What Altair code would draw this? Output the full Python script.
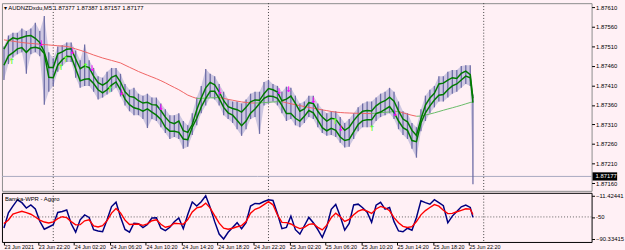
import altair as alt
import pandas as pd

BG = "#FFF0F5"
FONT = "Liberation Sans"

# time axis: hours counted from 23 Jun 2021 00:00, one sample every 30 minutes
hours = [18.5 + 0.5 * i for i in range(105)] + [70.8]

upper = [
    1.87503, 1.87524, 1.87532, 1.87529, 1.87533, 1.87537, 1.87538, 1.87531, 1.87520, 1.87496,
    1.87456, 1.87456, 1.87491, 1.87496, 1.87503, 1.87504, 1.87478, 1.87453, 1.87460, 1.87456,
    1.87434, 1.87417, 1.87411, 1.87418, 1.87431, 1.87436, 1.87419, 1.87394, 1.87382, 1.87380,
    1.87371, 1.87365, 1.87367, 1.87361, 1.87360, 1.87346, 1.87329, 1.87316, 1.87312, 1.87319,
    1.87294, 1.87290, 1.87310, 1.87348, 1.87378, 1.87404, 1.87418, 1.87412, 1.87394, 1.87371,
    1.87356, 1.87351, 1.87348, 1.87342, 1.87354, 1.87368, 1.87373, 1.87372, 1.87389, 1.87402,
    1.87399, 1.87393, 1.87371, 1.87375, 1.87383, 1.87364, 1.87344, 1.87350, 1.87366, 1.87364,
    1.87344, 1.87329, 1.87319, 1.87326, 1.87324, 1.87308, 1.87295, 1.87303, 1.87320, 1.87334,
    1.87344, 1.87346, 1.87345, 1.87358, 1.87366, 1.87371, 1.87380, 1.87370, 1.87345, 1.87324,
    1.87317, 1.87295, 1.87282, 1.87324, 1.87360, 1.87378, 1.87390, 1.87414, 1.87416, 1.87424,
    1.87430, 1.87428, 1.87441, 1.87447, 1.87438, 1.87377,
]
lower = [
    1.87462, 1.87486, 1.87494, 1.87504, 1.87507, 1.87495, 1.87506, 1.87508, 1.87505, 1.87492,
    1.87431, 1.87430, 1.87462, 1.87476, 1.87485, 1.87484, 1.87453, 1.87422, 1.87426, 1.87427,
    1.87415, 1.87399, 1.87391, 1.87399, 1.87411, 1.87419, 1.87399, 1.87375, 1.87361, 1.87353,
    1.87350, 1.87344, 1.87350, 1.87342, 1.87334, 1.87323, 1.87303, 1.87293, 1.87293, 1.87290,
    1.87273, 1.87271, 1.87303, 1.87326, 1.87355, 1.87377, 1.87395, 1.87395, 1.87377, 1.87354,
    1.87340, 1.87334, 1.87321, 1.87307, 1.87319, 1.87339, 1.87350, 1.87364, 1.87377, 1.87383,
    1.87382, 1.87377, 1.87359, 1.87338, 1.87338, 1.87326, 1.87319, 1.87331, 1.87346, 1.87340,
    1.87321, 1.87302, 1.87294, 1.87300, 1.87295, 1.87278, 1.87269, 1.87272, 1.87291, 1.87310,
    1.87320, 1.87322, 1.87322, 1.87338, 1.87342, 1.87349, 1.87356, 1.87341, 1.87319, 1.87302,
    1.87295, 1.87269, 1.87266, 1.87314, 1.87340, 1.87358, 1.87373, 1.87385, 1.87387, 1.87399,
    1.87409, 1.87414, 1.87424, 1.87434, 1.87430, 1.87366,
]
high = [
    1.87510, 1.87538, 1.87545, 1.87545, 1.87556, 1.87550, 1.87556, 1.87571, 1.87550, 1.87588,
    1.87495, 1.87480, 1.87510, 1.87513, 1.87520, 1.87520, 1.87500, 1.87475, 1.87515, 1.87475,
    1.87455, 1.87434, 1.87430, 1.87445, 1.87455, 1.87455, 1.87440, 1.87414, 1.87399, 1.87404,
    1.87389, 1.87384, 1.87389, 1.87379, 1.87379, 1.87364, 1.87349, 1.87334, 1.87334, 1.87339,
    1.87319, 1.87308, 1.87339, 1.87379, 1.87409, 1.87452, 1.87440, 1.87434, 1.87414, 1.87394,
    1.87374, 1.87369, 1.87369, 1.87364, 1.87374, 1.87389, 1.87394, 1.87394, 1.87419, 1.87424,
    1.87414, 1.87409, 1.87394, 1.87407, 1.87404, 1.87384, 1.87364, 1.87369, 1.87384, 1.87384,
    1.87364, 1.87349, 1.87339, 1.87344, 1.87344, 1.87329, 1.87314, 1.87324, 1.87339, 1.87354,
    1.87364, 1.87369, 1.87369, 1.87379, 1.87389, 1.87394, 1.87404, 1.87394, 1.87369, 1.87344,
    1.87339, 1.87314, 1.87303, 1.87349, 1.87384, 1.87399, 1.87409, 1.87434, 1.87434, 1.87445,
    1.87450, 1.87450, 1.87460, 1.87462, 1.87462, 1.87387,
]
low = [
    1.87424, 1.87465, 1.87482, 1.87490, 1.87495, 1.87440, 1.87490, 1.87495, 1.87485, 1.87361,
    1.87394, 1.87409, 1.87445, 1.87460, 1.87470, 1.87470, 1.87430, 1.87404, 1.87409, 1.87409,
    1.87394, 1.87374, 1.87379, 1.87387, 1.87394, 1.87404, 1.87382, 1.87359, 1.87344, 1.87334,
    1.87334, 1.87324, 1.87301, 1.87324, 1.87319, 1.87303, 1.87288, 1.87273, 1.87278, 1.87273,
    1.87248, 1.87253, 1.87283, 1.87308, 1.87339, 1.87359, 1.87379, 1.87374, 1.87359, 1.87334,
    1.87324, 1.87314, 1.87298, 1.87281, 1.87298, 1.87324, 1.87329, 1.87286, 1.87359, 1.87364,
    1.87369, 1.87359, 1.87339, 1.87319, 1.87324, 1.87308, 1.87303, 1.87314, 1.87329, 1.87324,
    1.87303, 1.87288, 1.87281, 1.87283, 1.87278, 1.87263, 1.87251, 1.87253, 1.87273, 1.87293,
    1.87303, 1.87303, 1.87303, 1.87319, 1.87329, 1.87334, 1.87339, 1.87324, 1.87298, 1.87283,
    1.87273, 1.87248, 1.87225, 1.87293, 1.87319, 1.87339, 1.87354, 1.87369, 1.87369, 1.87379,
    1.87389, 1.87394, 1.87404, 1.87414, 1.87409, 1.87157,
]
ma = [
    1.875270, 1.875252, 1.875235, 1.875217, 1.875202, 1.875189, 1.875179, 1.875169, 1.875159, 1.875149,
    1.875139, 1.875129, 1.875119, 1.875111, 1.875101, 1.875076, 1.875038, 1.875003, 1.874965, 1.874925,
    1.874882, 1.874844, 1.874806, 1.874774, 1.874743, 1.874711, 1.874678, 1.874622, 1.874567, 1.874514,
    1.874459, 1.874411, 1.874365, 1.874320, 1.874275, 1.874224, 1.874169, 1.874108, 1.874050, 1.873992,
    1.873924, 1.873854, 1.873808, 1.873768, 1.873771, 1.873778, 1.873783, 1.873788, 1.873791, 1.873771,
    1.873745, 1.873723, 1.873700, 1.873680, 1.873665, 1.873655, 1.873650, 1.873655, 1.873662, 1.873670,
    1.873677, 1.873685, 1.873687, 1.873657, 1.873632, 1.873609, 1.873584, 1.873561, 1.873539, 1.873519,
    1.873496, 1.873476, 1.873456, 1.873435, 1.873418, 1.873408, 1.873400, 1.873395, 1.873390, 1.873388,
    1.873385, 1.873383, 1.873380, 1.873393, 1.873403, 1.873413, 1.873423, 1.873430, 1.873433, 1.873400,
    1.873367, 1.873337, 1.873312, 1.873317, 1.873342, 1.873370, 1.873400, 1.873433, 1.873466, 1.873498,
    1.873529, 1.873561, 1.873594, 1.873630, 1.873665, 1.873677,
]
wpr = [
    -70.2, -42.4, -30.2, -18.9, -24.0, -33.8, -28.1, -35.6, -58.0, -72.4,
    -68.4, -64.3, -41.9, -40.1, -37.4, -62.5, -77.8, -55.3, -46.4, -50.9,
    -73.3, -75.8, -76.9, -55.3, -31.1, -23.1, -50.0, -72.9, -77.8, -61.6,
    -62.5, -69.3, -63.8, -51.8, -51.4, -70.6, -75.1, -68.8, -58.9, -51.8,
    -71.5, -45.5, -22.7, -30.2, -22.2, -11.4, -32.9, -58.6, -81.3, -90.3,
    -78.1, -69.1, -60.4, -71.5, -60.7, -30.2, -25.4, -25.8, -21.8, -18.6,
    -20.0, -44.2, -71.5, -69.1, -48.5, -73.3, -81.3, -66.1, -50.9, -60.7,
    -73.3, -87.1, -67.9, -36.2, -27.2, -48.7, -74.2, -62.0, -28.1, -26.7,
    -33.3, -41.5, -59.8, -28.6, -23.3, -35.8, -32.9, -58.6, -75.6, -77.0,
    -70.6, -74.2, -50.9, -20.7, -24.0, -26.8, -18.6, -24.0, -29.5, -60.7,
    -48.5, -40.1, -31.5, -28.5, -32.6, -50.9,
]
sig = [
    -62.2, -55.5, -44.8, -42.1, -39.7, -42.3, -45.1, -50.2, -55.7, -59.3,
    -61.1, -58.9, -53.0, -49.6, -51.4, -58.6, -64.5, -64.1, -57.1, -55.3,
    -66.4, -68.4, -66.1, -56.9, -43.0, -34.5, -42.8, -55.9, -63.9, -63.4,
    -63.0, -65.4, -62.7, -56.9, -55.1, -63.4, -68.8, -67.0, -61.6, -62.2,
    -63.4, -54.8, -41.0, -33.5, -31.5, -24.8, -33.8, -47.6, -61.4, -70.4,
    -72.4, -70.6, -67.9, -65.9, -58.6, -43.3, -36.0, -32.9, -27.5, -22.2,
    -27.9, -46.4, -60.0, -60.3, -62.9, -67.5, -71.3, -69.1, -63.6, -62.5,
    -69.0, -73.8, -65.0, -51.2, -43.1, -49.9, -58.2, -54.4, -46.2, -39.4,
    -36.5, -39.4, -43.7, -35.6, -30.8, -33.3, -38.8, -51.2, -60.7, -67.2,
    -69.3, -67.7, -58.4, -46.2, -38.5, -32.9, -27.5, -30.4, -37.9, -43.9,
    -43.5, -40.6, -37.9, -35.1, -35.8, -45.5,
]

sell_h = [22.67, 26.13, 28.33, 31.62, 36.0, 42.58, 49.18, 50.25, 52.99, 56.05, 62.12]
sell_p = [1.87516, 1.87495, 1.87453, 1.87390, 1.87352, 1.87394, 1.87394, 1.87399, 1.87369, 1.87299, 1.87336]
buy_h = [19.38, 24.86, 25.40, 27.60, 30.33, 55.45, 59.56]
buy_p = [1.87470, 1.87455, 1.87474, 1.87457, 1.87399, 1.87316, 1.87298]

day_sep = [24, 48, 72]
x_tick_vals = [18.5, 22.3333, 26.3333, 30.3333, 34.3333, 38.3333, 42.3333,
               46.3333, 50.3333, 54.3333, 58.3333, 62.3333, 66.3333, 70.3333]
x_tick_labels = ["23 Jun 2021", "23 Jun 22:20", "24 Jun 02:20", "24 Jun 06:20",
                 "24 Jun 10:20", "24 Jun 14:20", "24 Jun 18:20", "24 Jun 22:20",
                 "25 Jun 02:20", "25 Jun 06:20", "25 Jun 10:20", "25 Jun 14:20",
                 "25 Jun 18:20", "25 Jun 22:20"]
price_ticks = [1.8716, 1.8721, 1.8726, 1.8731, 1.8736, 1.8741, 1.8746, 1.8751, 1.8756, 1.8761]
wpr_ticks = [-11.42441, -50, -90.33415]
last_price = 1.87177
header = "\u25be AUDNZDxdu,M5  1.87377 1.87387 1.87157 1.87177"
sub_title = "Bamka-WPR - Aggro"

X_DOM = [18.28, 84.03]
P_DOM = [1.87140, 1.87621]
W_DOM = [-95.7, -6.04]

df = pd.DataFrame(dict(h=hours, upper=upper, lower=lower, high=high, low=low,
                       ma=ma, wpr=wpr, sig=sig))
sells = pd.DataFrame(dict(h=sell_h, p=sell_p))
buys = pd.DataFrame(dict(h=buy_h, p=buy_p))
seps = pd.DataFrame(dict(h=day_sep))
last_df = pd.DataFrame(dict(p=[last_price], t=["%.5f" % last_price]))

label_arr = "[" + ",".join("'%s'" % s for s in x_tick_labels) + "]"

x_hidden = alt.X("h:Q", scale=alt.Scale(domain=X_DOM, nice=False, zero=False), axis=None)
x_axis = alt.Axis(orient="bottom", values=x_tick_vals, title=None, grid=False, domain=False,
                  labelExpr=label_arr + "[round((datum.value - 18.5) / 4)]",
                  labelAlign="left", labelBaseline="top", labelPadding=0, tickSize=3,
                  tickColor="#000", labelColor="#000", labelFont=FONT, labelFontSize=5.5,
                  labelOverlap=False, labelFlush=False)
x_sub = alt.X("h:Q", scale=alt.Scale(domain=X_DOM, nice=False, zero=False), axis=x_axis)

ax_price = alt.Axis(orient="right", values=price_ticks, format=".5f", title=None, grid=False,
                    domain=False, tickSize=3, tickColor="#000", labelColor="#000", labelFont=FONT,
                    labelFontSize=6, labelPadding=1, labelOverlap=False, labelFlush=False)
ax_wpr = alt.Axis(orient="right", values=wpr_ticks, title=None, grid=False, domain=False,
                  labelExpr="datum.value == -50 ? '-50' : format(datum.value, '.5f')",
                  tickSize=3, tickColor="#000", labelColor="#000", labelFont=FONT,
                  labelFontSize=6, labelPadding=1, labelOverlap=False, labelFlush=False)


def yp(field):
    return alt.Y(field, scale=alt.Scale(domain=P_DOM, nice=False, zero=False), axis=ax_price)


def yw(field):
    return alt.Y(field, scale=alt.Scale(domain=W_DOM, nice=False, zero=False), axis=ax_wpr)


base = alt.Chart(df)

sep_main = alt.Chart(seps).mark_rule(color="#404040", strokeDash=[1, 2], strokeWidth=1).encode(x=x_hidden)
price_line = alt.Chart(last_df).mark_rule(color="#A8A8C0", strokeWidth=1).encode(y=yp("p:Q"))
bar_fill = base.mark_area(color="#A6A6D0", opacity=0.55).encode(x=x_hidden, y=yp("low:Q"), y2="high:Q")
bars = base.mark_rule(color="#62629E", strokeWidth=1.3, opacity=0.9).encode(
    x=x_hidden, y=yp("low:Q"), y2="high:Q")
ma_seg = base.transform_window(
    ma2="lead(ma)", h2="lead(h)", sort=[alt.SortField("h")], frame=[None, None]
).transform_filter("datum.ma2 != null").transform_calculate(
    dir="datum.ma2 >= datum.ma ? 'up' : 'down'"
).mark_rule(strokeWidth=1).encode(
    x=x_hidden, x2="h2:Q", y=yp("ma:Q"), y2="ma2:Q",
    color=alt.Color("dir:N", scale=alt.Scale(domain=["up", "down"], range=["#66BB66", "#F06262"]), legend=None))
band_up = base.mark_line(color="#007A00", strokeWidth=1.5).encode(x=x_hidden, y=yp("upper:Q"))
band_lo = base.mark_line(color="#007A00", strokeWidth=1.5).encode(x=x_hidden, y=yp("lower:Q"))
sell_arrows = alt.Chart(sells).mark_text(text="\u2193", color="#FF00FF", fontSize=8,
                                         font="DejaVu Sans", fontWeight="bold").encode(x=x_hidden, y=yp("p:Q"))
buy_arrows = alt.Chart(buys).mark_text(text="\u2191", color="#66FF33", fontSize=8,
                                       font="DejaVu Sans", fontWeight="bold").encode(x=x_hidden, y=yp("p:Q"))
head = alt.Chart(pd.DataFrame(dict(t=[header]))).mark_text(
    align="left", baseline="middle", fontSize=6, font=FONT, color="#000").encode(
    x=alt.value(2), y=alt.value(5), text="t:N")
box = alt.Chart(last_df).transform_calculate(
    p1="datum.p + 0.000105", p2="datum.p - 0.000105"
).mark_rect(color="#000").encode(x=alt.value(601), x2=alt.value(626), y=yp("p1:Q"), y2="p2:Q")
box_txt = alt.Chart(last_df).mark_text(
    fontSize=6, font=FONT, color="#FFF", align="left", baseline="middle").encode(
    x=alt.value(604), y=yp("p:Q"), text="t:N")

main = alt.layer(sep_main, price_line, bar_fill, bars, ma_seg, band_up, band_lo, sell_arrows,
                 buy_arrows, head, box, box_txt).properties(
    width=600, height=191, view=alt.ViewBackground(fill=BG, stroke="#8C8C8C", strokeWidth=1))

sep_sub = alt.Chart(seps).mark_rule(color="#404040", strokeDash=[1, 2], strokeWidth=1).encode(x=x_sub)
lvl = alt.Chart(pd.DataFrame(dict(v=[-50]))).mark_rule(
    color="#606060", strokeDash=[1, 2], strokeWidth=1).encode(y=yw("v:Q"))
wpr_line = base.mark_line(color="#000080", strokeWidth=1.5).encode(x=x_sub, y=yw("wpr:Q"))
sig_line = base.mark_line(color="#FF0000", strokeWidth=1.4).encode(x=x_sub, y=yw("sig:Q"))
sub_lbl = alt.Chart(pd.DataFrame(dict(t=[sub_title]))).mark_text(
    align="left", baseline="middle", fontSize=6, font=FONT, color="#000").encode(
    x=alt.value(3), y=alt.value(6), text="t:N")

sub = alt.layer(sep_sub, lvl, wpr_line, sig_line, sub_lbl).properties(
    width=600, height=50, view=alt.ViewBackground(fill=BG, stroke="#000", strokeWidth=1))

chart = alt.vconcat(main, sub, spacing=0).properties(background=BG, padding=0)

chart.save("out.html", embed_options={"renderer": "svg", "actions": False})
